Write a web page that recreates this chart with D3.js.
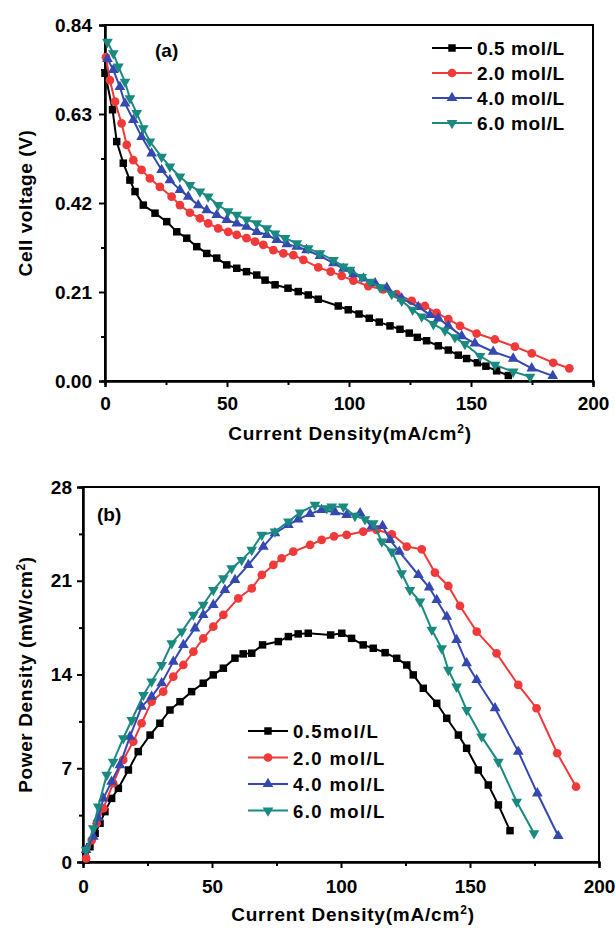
<!DOCTYPE html>
<html>
<head>
<meta charset="utf-8">
<script src="https://cdn.jsdelivr.net/npm/d3@7"></script>
<style>
  body { margin: 0; background: #fff; }
  text { font-family: "Liberation Sans", Arial, sans-serif; font-weight: bold; fill: #000; }
</style>
</head>
<body>
<svg id="chart" width="615" height="928"></svg>
<script>
// ---- data, panel (a): cell voltage (V) vs current density (mA/cm2) ----
const volt05 = [[0,0.726],[3.1,0.64],[4.8,0.565],[7.5,0.514],[10.2,0.474],[12.3,0.447],[15.7,0.415],[20.5,0.396],[25.3,0.376],[29.4,0.352],[33.5,0.337],[37.6,0.317],[41.7,0.301],[45.8,0.29],[49.9,0.274],[54,0.266],[58,0.258],[62.2,0.25],[65.6,0.238],[69.7,0.227],[75,0.219],[79.2,0.211],[83.3,0.203],[87.4,0.193],[95.6,0.177],[99.7,0.168],[104.1,0.158],[108.3,0.148],[112.4,0.139],[116.8,0.13],[120.9,0.122],[124.7,0.113],[128,0.103],[131.8,0.095],[136.6,0.083],[140.7,0.073],[144.8,0.061],[148.2,0.053],[152.6,0.043],[156.1,0.035],[160.5,0.024],[165.3,0.013]];
const volt20 = [[0.4,0.764],[2,0.71],[4.1,0.659],[6.8,0.608],[8.9,0.557],[11.6,0.521],[15,0.498],[18.4,0.478],[22.5,0.458],[27.3,0.435],[30.7,0.415],[34.8,0.397],[38.9,0.384],[42.3,0.372],[46.4,0.36],[50.5,0.352],[54,0.345],[58,0.337],[61.5,0.329],[64.9,0.321],[69,0.309],[73.1,0.301],[77.2,0.297],[81.3,0.286],[87.4,0.268],[92.5,0.258],[97,0.248],[101.8,0.237],[107.9,0.224],[114,0.216],[119.5,0.205],[125.7,0.189],[131.1,0.177],[135.9,0.161],[140.7,0.146],[145.5,0.13],[152.3,0.112],[159.8,0.098],[168,0.081],[174.9,0.065],[183.7,0.043],[190.3,0.03]];
const volt40 = [[1,0.76],[3.4,0.734],[6.1,0.694],[8.2,0.655],[11.6,0.616],[15,0.576],[19.1,0.537],[23.2,0.498],[26.6,0.474],[30.7,0.451],[34.1,0.435],[38.2,0.415],[41.7,0.403],[45.8,0.392],[49.9,0.38],[54,0.372],[58,0.364],[62.2,0.352],[66.3,0.345],[70.4,0.333],[74.5,0.323],[78.6,0.317],[82.6,0.309],[88.1,0.295],[93.6,0.278],[97.7,0.265],[101.8,0.252],[105.9,0.242],[110.7,0.231],[115.5,0.22],[121.6,0.195],[128.4,0.175],[133.2,0.156],[136.6,0.148],[140.7,0.13],[146.2,0.106],[151.6,0.089],[159.1,0.069],[167.3,0.053],[174.9,0.03],[183.5,0.012]];
const volt60 = [[1,0.8],[3.4,0.773],[5.5,0.742],[8.2,0.706],[10.2,0.667],[13,0.632],[15.7,0.596],[18.4,0.565],[23.2,0.529],[26.6,0.506],[30.7,0.482],[34.8,0.462],[38.9,0.447],[42.3,0.435],[46.4,0.415],[50.5,0.4],[54,0.392],[58,0.381],[62.2,0.372],[66.3,0.36],[69.7,0.348],[73.8,0.337],[78.6,0.325],[83.3,0.313],[88.1,0.301],[93.6,0.285],[97.7,0.27],[100.4,0.262],[105.2,0.245],[108.6,0.234],[112.7,0.221],[117.5,0.205],[121.6,0.189],[126.1,0.168],[129.8,0.152],[134.6,0.134],[139.3,0.119],[143.4,0.103],[147.5,0.087],[153.7,0.059],[159.8,0.038],[167.3,0.022],[174.2,0.01]];

// ---- data, panel (b): power density (mW/cm2) vs current density ----
const power05 = [[1.2,0.15],[2.7,1.14],[4.7,2.14],[6.6,2.89],[8.5,3.76],[11.1,4.75],[13.7,5.5],[17.6,6.87],[21.4,8.24],[26,9.48],[29.8,10.36],[33.7,11.35],[37.6,11.97],[42.1,12.72],[46.6,13.35],[50.5,13.97],[54.4,14.47],[58.9,15.22],[62.1,15.54],[65.4,15.59],[69.6,16.21],[75.7,16.46],[79.6,16.83],[83.4,17.03],[87.3,17.08],[96,16.95],[100.3,17.08],[104.1,16.7],[108.6,16.21],[112.5,15.96],[117.1,15.63],[121.6,15.21],[125.5,14.71],[128,13.97],[131.9,12.97],[137.1,11.85],[141,10.73],[145.5,9.48],[148.7,8.49],[153.2,6.87],[157.1,5.75],[161,4.26],[165.5,2.34]];
const power20 = [[1.2,0.27],[3.4,1.64],[5.3,2.89],[7.9,4.01],[11.7,5.88],[15.6,7.62],[19.5,8.99],[22.7,10.36],[26.6,11.97],[31.1,12.72],[35,13.84],[38.9,14.71],[42.8,15.7],[46.6,16.69],[50.5,17.57],[54.4,18.45],[60.2,19.69],[65.4,20.43],[69.3,21.43],[73.8,22.18],[77,22.68],[81.5,23.17],[88,23.67],[92.5,24.05],[97.3,24.32],[102.2,24.42],[108.6,24.67],[113.8,24.8],[119.7,24.47],[125.5,23.55],[131.3,23.35],[136.4,21.61],[141.6,20.61],[146.1,19.12],[152.6,17.2],[160.3,15.58],[168.7,13.22],[175.8,11.48],[183.8,8.12],[191.1,5.62]];
const power40 = [[1.2,0.9],[4,1.9],[5.9,3.3],[7.9,4.75],[11.1,6],[14.3,7.24],[18.2,9.36],[22.7,11.6],[26.6,12.35],[30.5,13.35],[35,14.96],[38.9,16.21],[43.4,17.45],[46.6,18.45],[50.5,19.2],[55,20.31],[58.9,21.06],[64.1,22.18],[69.9,23.55],[74.4,24.55],[79.6,25.17],[83.4,25.59],[88,25.99],[92.5,26.29],[97.7,26.12],[102.2,25.92],[107.4,26.04],[111.9,25.04],[116.1,25.09],[119,24.05],[122.6,23.17],[130,21.43],[134.2,20.51],[137.1,19.57],[141,18.32],[144.8,16.58],[148.7,14.84],[152.6,13.59],[159.7,11.48],[168.7,8.24],[176.1,5.13],[184.2,1.94]];
const power60 = [[1.2,0.9],[4,2.52],[5.9,4.13],[9.2,6.5],[11.7,7.48],[15.6,9.24],[18.9,10.6],[23.4,12.47],[26.6,13.47],[30.5,14.71],[34.4,16.33],[38.3,17.2],[42.8,18.45],[46.6,19.2],[50.5,20.31],[54.4,21.18],[57.6,21.93],[61.5,22.55],[65.4,23.3],[69.3,24.42],[74.4,24.67],[79.6,25.42],[84.1,26.09],[89.9,26.66],[94.5,26.41],[96.4,26.53],[100.9,26.53],[105.4,25.84],[109.3,25.59],[112.5,25.29],[115.8,23.92],[119.7,23.17],[123.5,21.56],[126.7,20.31],[130.6,19.44],[135.2,17.33],[139,15.96],[141.6,14.34],[144.8,13.09],[148.7,11.35],[154.5,9.36],[161,7.48],[168.1,4.5],[174.8,2.14]];

const labelsA = ['0.5 mol/L', '2.0 mol/L', '4.0 mol/L', '6.0 mol/L'];
const labelsB = ['0.5mol/L', '2.0 mol/L', '4.0 mol/L', '6.0 mol/L'];
const xTicks = [0, 50, 100, 150, 200];
const xMinor = [25, 75, 125, 175];
const yTicksA = [0, 0.21, 0.42, 0.63, 0.84];
const yMinorA = [0.105, 0.315, 0.525, 0.735];
const yTicksB = [0, 7, 14, 21, 28];
const yMinorB = [3.5, 10.5, 17.5, 24.5];

const colors = ['#000000', '#f03a3a', '#3548b0', '#1a8a80'];
const shapes = ['square', 'circle', 'up', 'down'];

const svg = d3.select('#chart');

function marker(sel, shape, color) {
  if (shape === 'square') {
    sel.append('path').attr('d', d3.symbol(d3.symbolSquare, 56)()).attr('fill', color);
  } else if (shape === 'circle') {
    sel.append('path').attr('d', d3.symbol(d3.symbolCircle, 60)()).attr('fill', color);
  } else {
    let p = sel.append('path').attr('d', d3.symbol(d3.symbolTriangle, 50)()).attr('fill', color);
    if (shape === 'down') p.attr('transform', 'rotate(180)');
  }
}

/**
 * Draws one panel: frame, axes with minor ticks, series, legend, labels.
 */
function drawPanel(spec) {
  let x = d3.scaleLinear().domain([0, 200]).range([spec.left, spec.right]);
  let y = d3.scaleLinear().domain(spec.yDomain).range([spec.bottom, spec.top]);
  let g = svg.append('g');

  // frame (top and right sides have no ticks)
  g.append('rect')
      .attr('x', spec.left).attr('y', spec.top)
      .attr('width', spec.right - spec.left).attr('height', spec.bottom - spec.top)
      .attr('fill', 'none').attr('stroke', '#000').attr('stroke-width', 2);

  let xAxis = d3.axisBottom(x).tickValues(xTicks).tickSize(6)
      .tickPadding(spec.xPad).tickFormat(d3.format('d'));
  let xAxisMinor = d3.axisBottom(x).tickValues(xMinor).tickSize(4).tickFormat('');
  let yAxis = d3.axisLeft(y).tickValues(spec.yTicks).tickSize(6)
      .tickPadding(spec.yPad).tickFormat(spec.yFormat);
  let yAxisMinor = d3.axisLeft(y).tickValues(spec.yMinor).tickSize(4).tickFormat('');

  [[xAxis, 'x'], [xAxisMinor, 'x'], [yAxis, 'y'], [yAxisMinor, 'y']].forEach(([ax, k]) => {
    let a = g.append('g')
        .attr('transform', k === 'x' ? `translate(0,${spec.bottom})` : `translate(${spec.left},0)`)
        .call(ax);
    a.select('.domain').attr('stroke-width', 2);
    a.selectAll('.tick line').attr('stroke-width', 2);
    a.selectAll('.tick text').attr('font-size', 19).attr('fill', '#000')
        .style('font-family', '"Liberation Sans", Arial, sans-serif').style('font-weight', 'bold');
  });

  // series, black drawn first, teal last
  let line = d3.line().x(d => x(d[0])).y(d => y(d[1]));
  spec.series.forEach((data, i) => {
    g.append('path').datum(data)
        .attr('d', line).attr('fill', 'none')
        .attr('stroke', colors[i]).attr('stroke-width', 2);
    g.selectAll(null).data(data).join('g')
        .attr('transform', d => `translate(${x(d[0])},${y(d[1])})`)
        .each(function() { marker(d3.select(this), shapes[i], colors[i]); });
  });

  // legend
  spec.labels.forEach((lab, i) => {
    let ly = spec.legY + i * spec.legStep;
    let lg = g.append('g');
    lg.append('line')
        .attr('x1', spec.legX).attr('x2', spec.legX + 40)
        .attr('y1', ly).attr('y2', ly)
        .attr('stroke', colors[i]).attr('stroke-width', 2);
    let m = lg.append('g').attr('transform', `translate(${spec.legX + 20},${ly})`);
    marker(m, shapes[i], colors[i]);
    lg.append('text')
        .attr('x', spec.legX + 45).attr('y', ly + 7)
        .attr('font-size', spec.legSize).attr('letter-spacing', spec.legSpacing)
        .text(lab);
  });

  // panel tag
  g.append('text').attr('x', spec.tagX).attr('y', spec.tagY)
      .attr('font-size', 19).text(spec.tag);

  // x title
  let xt = g.append('text')
      .attr('x', spec.xTitleX).attr('y', spec.xTitleY)
      .attr('text-anchor', 'middle').attr('font-size', 19).attr('letter-spacing', 0.8);
  xt.append('tspan').text('Current Density(mA/cm');
  xt.append('tspan').attr('baseline-shift', 'super').attr('font-size', 12).text('2');
  xt.append('tspan').text(')');

  // y title
  let yt = g.append('text')
      .attr('transform', `translate(${spec.yTitleX},${(spec.top + spec.bottom) / 2}) rotate(-90)`)
      .attr('text-anchor', 'middle').attr('font-size', 19).attr('letter-spacing', 0.6);
  spec.yTitle.forEach(part => {
    let t = yt.append('tspan').text(part.t);
    if (part.sup) t.attr('baseline-shift', 'super').attr('font-size', 12);
  });
}

drawPanel({
  left: 105, right: 593, top: 25, bottom: 381,
  yDomain: [0, 0.84], yTicks: yTicksA, yMinor: yMinorA, yFormat: d3.format('.2f'),
  xPad: 10, yPad: 7,
  series: [volt05, volt20, volt40, volt60],
  labels: labelsA, legX: 432, legY: 48, legStep: 25, legSpacing: 0.6, legSize: 19,
  tag: '(a)', tagX: 155, tagY: 57,
  xTitleX: 350, xTitleY: 440,
  yTitleX: 32, yTitle: [{t: 'Cell voltage (V)'}],
});

drawPanel({
  left: 83, right: 599, top: 487, bottom: 862,
  yDomain: [0, 28], yTicks: yTicksB, yMinor: yMinorB, yFormat: d3.format('d'),
  xPad: 12, yPad: 5,
  series: [power05, power20, power40, power60],
  labels: labelsB, legX: 248, legY: 731, legStep: 26.5, legSpacing: 1.4, legSize: 18.5,
  tag: '(b)', tagX: 97, tagY: 521,
  xTitleX: 353, xTitleY: 921,
  yTitleX: 32, yTitle: [{t: 'Power Density (mW/cm'}, {t: '2', sup: true}, {t: ')'}],
});
</script>
</body>
</html>
